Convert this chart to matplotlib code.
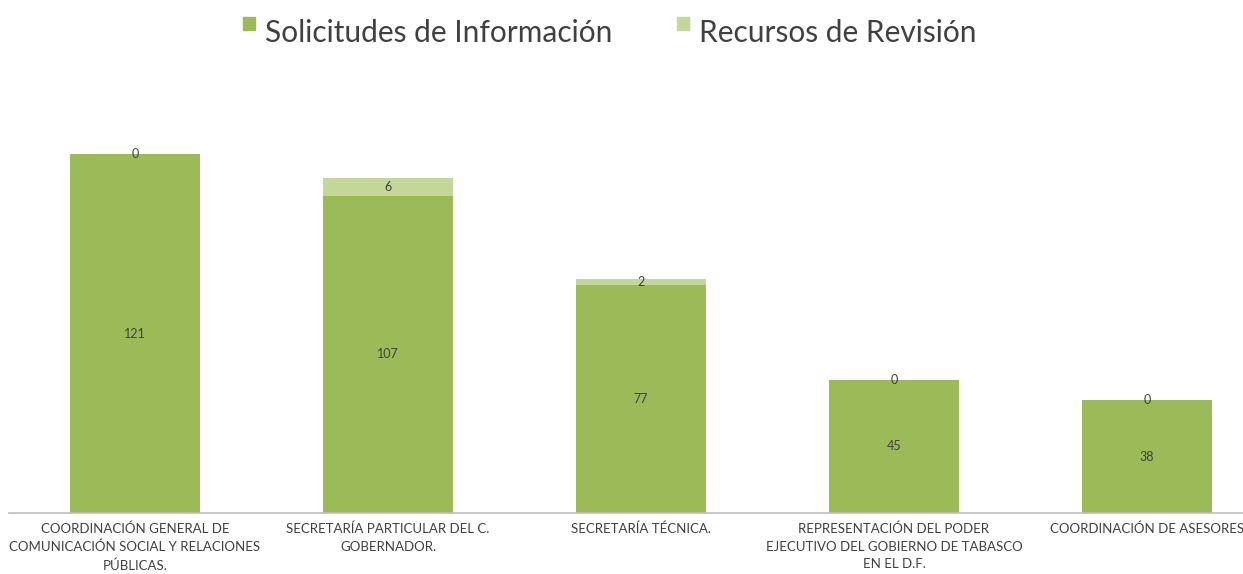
import matplotlib.pyplot as plt
from matplotlib.patches import Rectangle
import numpy as np

# categories and values
categories = [
    "COORDINACIÓN GENERAL DE\nCOMUNICACIÓN SOCIAL Y RELACIONES\nPÚBLICAS.",
    "SECRETARÍA PARTICULAR DEL C.\nGOBERNADOR.",
    "SECRETARÍA TÉCNICA.",
    "REPRESENTACIÓN DEL PODER\nEJECUTIVO DEL GOBIERNO DE TABASCO\nEN EL D.F.",
    "COORDINACIÓN DE ASESORES",
]
series_names = ["Solicitudes de Información", "Recursos de Revisión"]
solicitudes = [121, 107, 77, 45, 38]
recursos = [0, 6, 2, 0, 0]

dark_green = "#9BBB59"
light_green = "#C4D79B"
text_color = "#404040"

plt.rcParams['font.family'] = ['Lato', 'DejaVu Sans']

W, H = 1243, 574
fig = plt.figure(figsize=(W / 100, H / 100), dpi=100)
ax = fig.add_axes([8.5 / W, 61 / H, 1265 / W, 415 / H])

x = np.arange(len(categories))
width = 0.514
b1 = ax.bar(x, solicitudes, width, color=dark_green)
b2 = ax.bar(x, recursos, width, bottom=solicitudes, color=light_green)

for i in range(len(categories)):
    ax.text(x[i], solicitudes[i] / 2, str(solicitudes[i]), ha="center", va="center",
            fontsize=9, color=text_color)
    ax.text(x[i], solicitudes[i] + recursos[i] / 2, str(recursos[i]), ha="center", va="center",
            fontsize=9, color=text_color)

ax.set_xlim(-0.5, 4.5)
ax.set_ylim(0, 140)
ax.set_yticks([])
ax.set_xticks(x)
ax.set_xticklabels(categories, fontsize=9.5, color=text_color, linespacing=1.55)
ax.tick_params(axis="x", length=0, pad=7)
for s in ["top", "right", "left"]:
    ax.spines[s].set_visible(False)
ax.spines["bottom"].set_color("#BFBFBF")
ax.spines["bottom"].set_linewidth(1.2)

# legend drawn by hand: small squares sit at the top of the text
legend_items = [(243, 265, dark_green), (677, 699, light_green)]
for (sq_x, tx_x, col), name in zip(legend_items, series_names):
    fig.patches.append(Rectangle((sq_x / W, 1 - 30 / H), 12 / W, 13 / H,
                                 transform=fig.transFigure, color=col))
    fig.text(tx_x / W, 1 - 42 / H, name, fontsize=21.5, color=text_color,
             ha="left", va="baseline")

fig.savefig("out.png", dpi=100)
